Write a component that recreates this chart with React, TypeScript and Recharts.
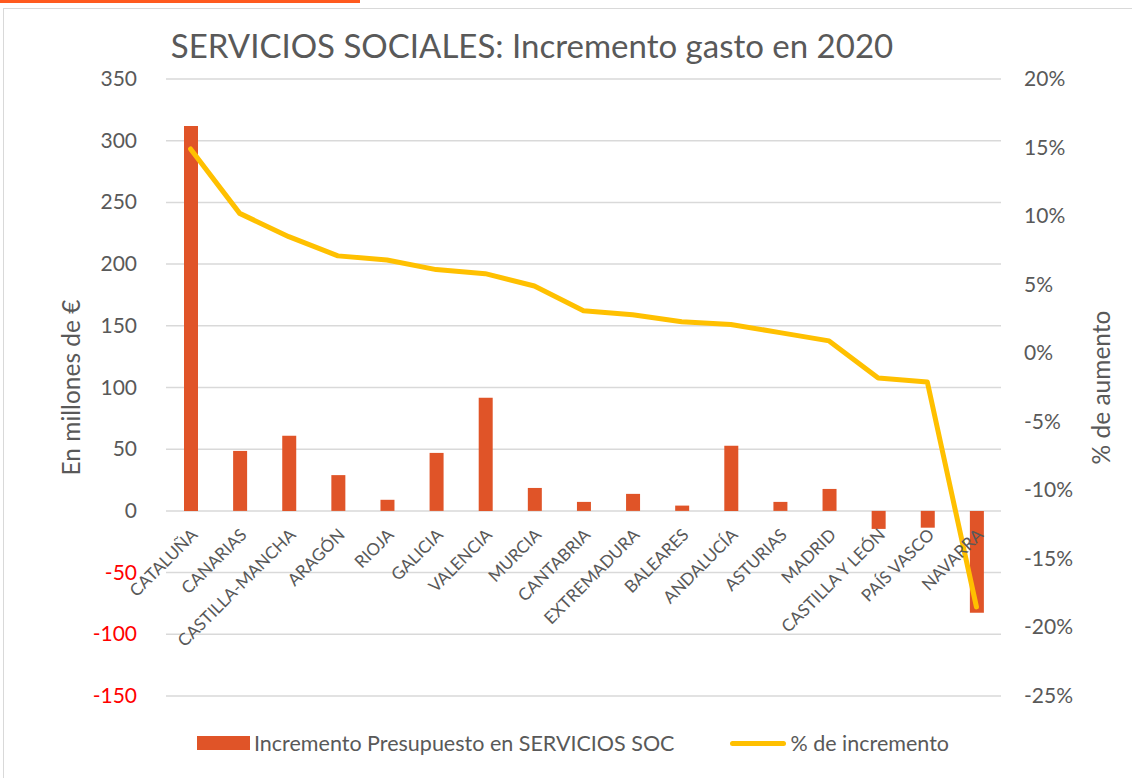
import { ComposedChart, Bar, Line, XAxis, YAxis, CartesianGrid, Legend, Label } from 'recharts';

const REGIONS = [
  'CATALUÑA', 'CANARIAS', 'CASTILLA-MANCHA', 'ARAGÓN', 'RIOJA', 'GALICIA', 'VALENCIA', 'MURCIA', 'CANTABRIA',
  'EXTREMADURA', 'BALEARES', 'ANDALUCÍA', 'ASTURIAS', 'MADRID', 'CASTILLA Y LEÓN', 'PAÍS VASCO', 'NAVARRA',
];
const INCREMENTO = [312, 48.6, 61, 29, 9, 47, 91.6, 18.6, 7.3, 13.8, 4.3, 52.7, 7.3, 17.8, -14.6, -13.6, -82.6];
const PORCENTAJE = [14.9, 10.2, 8.5, 7.1, 6.8, 6.1, 5.8, 4.9, 3.1, 2.8, 2.3, 2.1, 1.5, 0.9, -1.8, -2.1, -18.5];
const LEFT_TICKS = [-150, -100, -50, 0, 50, 100, 150, 200, 250, 300, 350];
const RIGHT_TICKS = [-25, -20, -15, -10, -5, 0, 5, 10, 15, 20];

const data = REGIONS.map((name, i) => ({ name, incremento: INCREMENTO[i], pct: PORCENTAJE[i] }));

const FONT = 'Lato, "Open Sans", sans-serif';
const GREY = '#595959';
const BAR = '#E05428';
const LINE = '#FFC000';

// plot box (used to place category labels on the zero line)
const TOP = 79;
const PLOT_H = 617;
const ZERO_Y = TOP + (PLOT_H * 350) / 500;

const LeftTick = ({ x, y, payload }: any) => (
  <text x={x} y={y} dy={7} textAnchor="end" fontSize={21} fontFamily={FONT} fill={payload.value < 0 ? '#FF0000' : GREY}>
    {payload.value}
  </text>
);

const RightTick = ({ x, y, payload }: any) => (
  <text x={x} y={y} dy={7} textAnchor="start" fontSize={21} fontFamily={FONT} fill={GREY}>
    {payload.value}%
  </text>
);

const CategoryTick = ({ x, payload }: any) => {
  const ax = x + 8;
  const ay = ZERO_Y + 25;
  return (
    <text x={ax} y={ay} textAnchor="end" fontSize={17} fontFamily={FONT} fill={GREY} transform={`rotate(-45, ${ax}, ${ay})`}>
      {payload.value}
    </text>
  );
};

const renderLegend = () => (
  <div style={{ height: 40, display: 'flex', alignItems: 'flex-start', fontFamily: FONT, fontSize: 21.5, color: GREY, whiteSpace: 'nowrap' }}>
    <div style={{ width: 53, height: 14, background: BAR, marginLeft: 197, marginTop: 8 }} />
    <span style={{ marginLeft: 4, lineHeight: '30px' }}>Incremento Presupuesto en SERVICIOS SOC</span>
    <div style={{ width: 56, height: 5, background: LINE, borderRadius: 3, marginLeft: 56, marginTop: 13 }} />
    <span style={{ marginLeft: 4, lineHeight: '30px' }}>% de incremento</span>
  </div>
);

const axisLabel = (text: string, dx: number) => (props: any) => {
  const vb = props.viewBox;
  const cx = vb.x + dx;
  const cy = vb.y + vb.height / 2;
  return (
    <text x={cx} y={cy} textAnchor="middle" dominantBaseline="central" fontSize={24.5} fontFamily={FONT} fill={GREY} transform={`rotate(-90, ${cx}, ${cy})`}>
      {text}
    </text>
  );
};

export default function App() {
  return (
    <div style={{ position: 'absolute', left: 0, top: 0, width: 1132, height: 778, background: '#fff', overflow: 'hidden' }}>
      <div style={{ position: 'absolute', left: 0, top: 0, width: 360, height: 3, background: '#FF5A1F' }} />
      <div style={{ position: 'absolute', left: 3, top: 8, width: 1140, height: 800, border: '1px solid #d9d9d9' }} />
      <div style={{ position: 'absolute', left: 0, top: 25, width: 1064, textAlign: 'center', fontFamily: FONT, fontSize: 33, color: GREY, zIndex: 2 }}>
        SERVICIOS SOCIALES: Incremento gasto en 2020
      </div>
      <ComposedChart width={1132} height={778} data={data} margin={{ top: TOP, right: 0, bottom: 0, left: 0 }}>
        <CartesianGrid yAxisId="left" vertical={false} stroke="#d9d9d9" strokeWidth={1.5} />
        <XAxis dataKey="name" height={42} axisLine={false} tickLine={false} interval={0} tick={<CategoryTick />} />
        <YAxis
          yAxisId="left"
          width={166}
          domain={[-150, 350]}
          ticks={LEFT_TICKS}
          axisLine={false}
          tickLine={false}
          tickSize={0}
          tickMargin={29}
          tick={<LeftTick />}
        >
          <Label content={axisLabel('En millones de €', 70)} />
        </YAxis>
        <YAxis
          yAxisId="right"
          orientation="right"
          width={131}
          domain={[-25, 20]}
          ticks={RIGHT_TICKS}
          axisLine={false}
          tickLine={false}
          tickSize={0}
          tickMargin={23}
          tick={<RightTick />}
        >
          <Label content={axisLabel('% de aumento', 99)} />
        </YAxis>
        <Bar yAxisId="left" dataKey="incremento" fill={BAR} barSize={14} isAnimationActive={false} />
        <Line
          yAxisId="right"
          dataKey="pct"
          type="linear"
          stroke={LINE}
          strokeWidth={5}
          strokeLinecap="round"
          strokeLinejoin="round"
          dot={false}
          isAnimationActive={false}
        />
        <Legend verticalAlign="bottom" height={40} content={renderLegend} wrapperStyle={{ top: 728, left: 0, width: 1132 }} />
      </ComposedChart>
    </div>
  );
}
